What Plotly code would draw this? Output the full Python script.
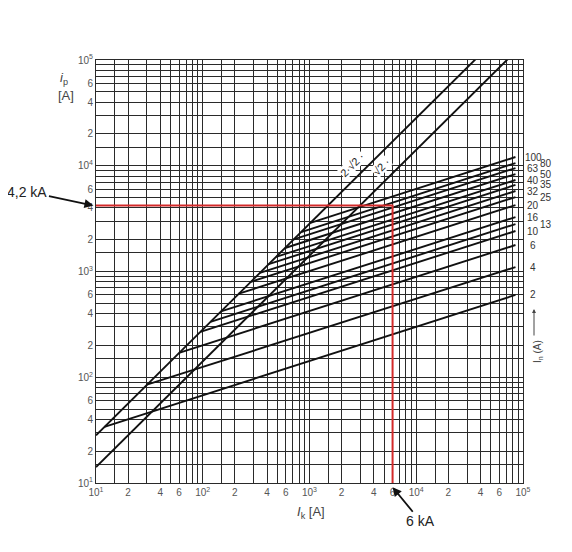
import math
import plotly.graph_objects as go

# ---- data ----
ratings = ["2", "4", "6", "10", "13", "16", "20", "25", "32", "35", "40", "50", "63", "80", "100"]
start_ik = [12, 30, 60, 95, 118, 148, 218, 282, 343, 415, 487, 590, 712, 835, 1020]
start_ip = [34, 85, 170, 269, 334, 419, 617, 798, 970, 1174, 1377, 1669, 2014, 2362, 2885]
end_ik = 85000
end_ip = [600, 1100, 1780, 2415, 2810, 3270, 4250, 5060, 5770, 6580, 7330, 8350, 9500, 10600, 12100]
label_col = [0, 0, 0, 0, 1, 0, 0, 1, 0, 1, 0, 1, 0, 1, 0]

diag_ik = [10, 100000]
diag_factor_hi = 2.8284  # 2·√2
diag_factor_lo = 1.4142  # √2

example_ik = 6000
example_ip = 4200

mantissas = [1, 1.5, 2, 3, 4, 5, 6, 7, 8, 9]
labeled_mantissas = [1, 2, 4, 6]
decades = [1, 2, 3, 4]

# ---- build ticks ----
tickvals, ticktext, minorvals = [], [], []
for d in decades:
    for m in mantissas:
        if m in labeled_mantissas:
            tickvals.append(m * 10 ** d)
            ticktext.append(f"10<sup>{d}</sup>" if m == 1 else str(int(m)))
        else:
            minorvals.append(m * 10 ** d)
tickvals.append(10 ** 5)
ticktext.append("10<sup>5</sup>")

FONT = "Liberation Sans, Arial, sans-serif"
GRID = "#2a2a2a"
fig = go.Figure()

# fuse cut-off lines
for r, x0, y0, y1 in zip(ratings, start_ik, start_ip, end_ip):
    fig.add_trace(go.Scatter(x=[x0, end_ik], y=[y0, y1], mode="lines",
                             line=dict(color="#111", width=1.9), showlegend=False,
                             hoverinfo="skip"))

# diagonals
fig.add_trace(go.Scatter(x=diag_ik, y=[v * diag_factor_hi for v in diag_ik], mode="lines",
                         line=dict(color="#111", width=1.9), showlegend=False))
fig.add_trace(go.Scatter(x=diag_ik, y=[v * diag_factor_lo for v in diag_ik], mode="lines",
                         line=dict(color="#111", width=1.9), showlegend=False))

# example red lines
fig.add_trace(go.Scatter(x=[10, example_ik, example_ik], y=[example_ip, example_ip, 10],
                         mode="lines", line=dict(color="#d42a2a", width=2), showlegend=False))

axis_common = dict(type="log", range=[1, 5], tickmode="array", tickvals=tickvals,
                   ticktext=ticktext, showgrid=True, gridcolor=GRID, gridwidth=1,
                   minor=dict(tickmode="array", tickvals=minorvals, showgrid=True,
                              gridcolor=GRID, gridwidth=1, ticks=""),
                   showline=True, linecolor=GRID, linewidth=1, mirror=True,
                   ticks="", zeroline=False,
                   tickfont=dict(family=FONT, size=10, color="#555"))
fig.update_xaxes(**axis_common)
fig.update_yaxes(**axis_common)

# plot area in page pixels: x 96..523, y 60..483
def px(xp):
    return (xp - 96) / 427


def py(yp):
    return (483 - yp) / 423


ann = []
# rating labels at the right
col_x = [533, 546]
for r, y1, c in zip(ratings, end_ip, label_col):
    ann.append(dict(x=px(col_x[c]), xref="paper", y=math.log10(y1), yref="y",
                    text=r, showarrow=False, xanchor="center", yanchor="middle",
                    font=dict(family=FONT, size=10, color="#333")))

# diagonal labels
ann.append(dict(x=px(352), xref="paper", y=py(165), yref="paper",
                text="2·√2 ·", showarrow=False, textangle=-45, bgcolor="white",
                xanchor="center", yanchor="middle",
                font=dict(family=FONT, size=11, color="#222"), borderpad=0))
ann.append(dict(x=px(381), xref="paper", y=py(167), yref="paper",
                text="√2 ·", showarrow=False, textangle=-45, bgcolor="white",
                xanchor="center", yanchor="middle",
                font=dict(family=FONT, size=11, color="#222"), borderpad=0))

# axis titles
ann.append(dict(x=px(64), xref="paper", y=py(79), yref="paper",
                text="<i>i</i><sub>p</sub>", showarrow=False,
                xanchor="center", yanchor="middle",
                font=dict(family=FONT, size=13, color="#444")))
ann.append(dict(x=px(66), xref="paper", y=py(95), yref="paper",
                text="[A]", showarrow=False, xanchor="center", yanchor="middle",
                font=dict(family=FONT, size=13, color="#444")))
ann.append(dict(x=px(311), xref="paper", y=py(512), yref="paper",
                text="<i>I</i><sub>k</sub> [A]", showarrow=False,
                xanchor="center", yanchor="middle",
                font=dict(family=FONT, size=13, color="#444")))

# In (A) with upward arrow
ann.append(dict(x=px(538), xref="paper", y=py(352), yref="paper",
                text="I<sub>n</sub> (A)", showarrow=False, textangle=-90,
                xanchor="center", yanchor="middle",
                font=dict(family=FONT, size=10, color="#444")))
ann.append(dict(x=px(534), xref="paper", y=py(309), yref="paper",
                ax=0, ay=28, text="", showarrow=True, arrowhead=2, arrowsize=0.8,
                arrowwidth=1, arrowcolor="#444"))

# example annotations
ann.append(dict(x=-0.006, xref="paper", y=math.log10(example_ip), yref="y", ax=-66, ay=-14,
                text="4,2 kA", showarrow=True, arrowhead=2, arrowsize=1, arrowwidth=1.8,
                arrowcolor="#111", font=dict(family=FONT, size=14, color="#222")))
ann.append(dict(x=math.log10(example_ik), xref="x", y=-0.01, yref="paper", ax=28, ay=34,
                text="6 kA", showarrow=True, arrowhead=2, arrowsize=1, arrowwidth=1.8,
                arrowcolor="#111", font=dict(family=FONT, size=14, color="#222")))

# page body has an 8px offset, so margins are shifted accordingly
fig.update_layout(width=572, height=552, margin=dict(l=88, r=57, t=52, b=77),
                  plot_bgcolor="white", paper_bgcolor="white", annotations=ann,
                  showlegend=False)

fig.write_html("out.html")
